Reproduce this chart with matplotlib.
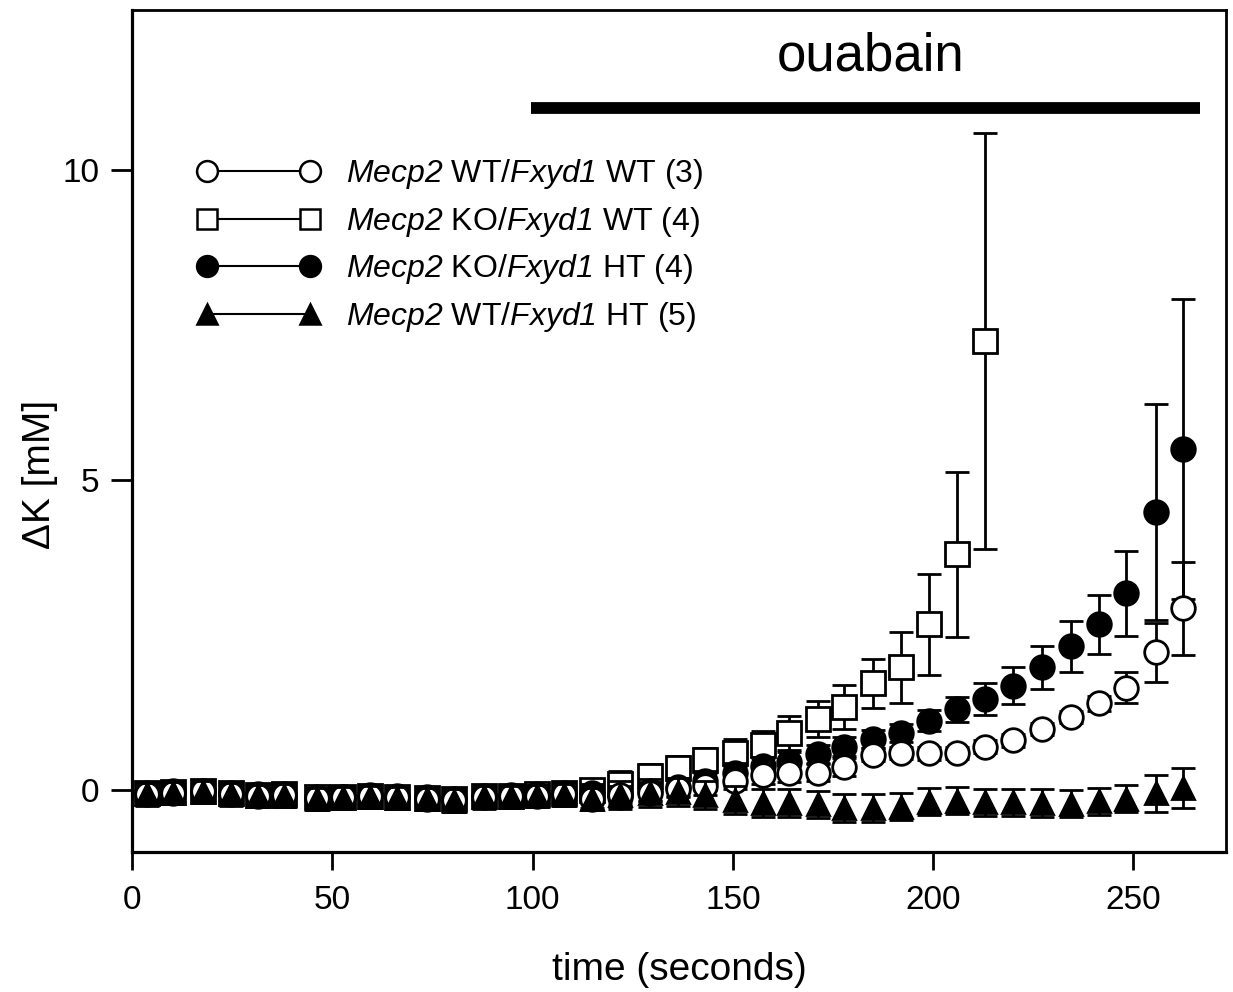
import matplotlib
matplotlib.use("Agg")
import matplotlib.pyplot as plt
from matplotlib.lines import Line2D

plt.rcParams['font.family'] = ['Liberation Sans', 'DejaVu Sans']
plt.rcParams['mathtext.fontset'] = 'custom'
plt.rcParams['mathtext.rm'] = 'Liberation Sans'
plt.rcParams['mathtext.sf'] = 'Liberation Sans:italic'

# time points (s)
times = [3.7, 10.2, 17.7, 24.7, 31.4, 37.9, 46.1, 52.6, 59.3, 66.1, 73.5, 80.3,
         87.8, 94.5, 101.0, 107.7, 114.7, 121.9, 129.4, 136.4, 143.1, 150.4,
         157.4, 164.1, 171.3, 177.8, 185.0, 192.0, 199.0, 206.0, 213.0, 219.8,
         227.2, 234.5, 241.5, 248.2, 255.5, 262.4]

# Mecp2 WT / Fxyd1 WT (open circles)
wt_wt = [-0.06, -0.04, -0.02, -0.06, -0.09, -0.08, -0.13, -0.12, -0.10, -0.12,
         -0.14, -0.16, -0.11, -0.10, -0.09, -0.07, -0.14, -0.08, -0.04, 0.02,
         0.06, 0.15, 0.24, 0.27, 0.28, 0.37, 0.57, 0.60, 0.59, 0.60, 0.70, 0.80,
         0.98, 1.18, 1.40, 1.65, 2.22, 2.93]
wt_wt_err = [0.15] * 17 + [0.14] * 9 + [0.10] * 6 + [0.10, 0.10, 0.12, 0.25, 0.47, 0.75]

# Mecp2 KO / Fxyd1 WT (open squares), recorded up to 213 s
ko_wt = [-0.05, -0.03, -0.02, -0.05, -0.08, -0.07, -0.12, -0.12, -0.09, -0.11,
         -0.13, -0.15, -0.10, -0.09, -0.07, -0.05, 0.00, 0.10, 0.22, 0.35, 0.48,
         0.60, 0.73, 0.92, 1.14, 1.34, 1.72, 1.98, 2.67, 3.80, 7.24]
ko_wt_err = [0.17] * 17 + [0.20, 0.20, 0.20, 0.20, 0.22, 0.22, 0.27, 0.29, 0.35,
                           0.40, 0.57, 0.82, 1.33, 3.36]

# Mecp2 KO / Fxyd1 HT (filled circles)
ko_ht = [-0.04, -0.02, -0.01, -0.05, -0.07, -0.07, -0.11, -0.11, -0.08, -0.10,
         -0.12, -0.14, -0.09, -0.08, -0.07, -0.04, -0.05, -0.12, -0.02, 0.05,
         0.15, 0.28, 0.38, 0.46, 0.58, 0.70, 0.82, 0.92, 1.12, 1.30, 1.47, 1.68,
         1.98, 2.32, 2.67, 3.17, 4.48, 5.50]
ko_ht_err = [0.15] * 28 + [0.17, 0.20, 0.26, 0.30, 0.35, 0.41, 0.48, 0.68, 1.74, 2.42]

# Mecp2 WT / Fxyd1 HT (filled triangles)
wt_ht = [-0.07, -0.05, -0.03, -0.07, -0.10, -0.09, -0.14, -0.13, -0.11, -0.13,
         -0.15, -0.17, -0.12, -0.11, -0.10, -0.08, -0.15, -0.08, -0.05, -0.03,
         -0.08, -0.16, -0.21, -0.21, -0.23, -0.29, -0.29, -0.27, -0.19, -0.17,
         -0.20, -0.20, -0.21, -0.22, -0.18, -0.14, -0.05, 0.03]
wt_ht_err = [0.18] * 17 + [0.22] * 19 + [0.30, 0.32]

labels = [r'$\mathsf{Mecp2}$ WT/$\mathsf{Fxyd1}$ WT (3)',
          r'$\mathsf{Mecp2}$ KO/$\mathsf{Fxyd1}$ WT (4)',
          r'$\mathsf{Mecp2}$ KO/$\mathsf{Fxyd1}$ HT (4)',
          r'$\mathsf{Mecp2}$ WT/$\mathsf{Fxyd1}$ HT (5)']

ouabain_start, ouabain_end = 99.5, 266.5

fig = plt.figure(figsize=(12.33, 9.92), dpi=100)
ax = fig.add_axes([0.1072, 0.1411, 0.8868, 0.8488])

eb = dict(linestyle='none', ecolor='black', elinewidth=2, capsize=8.5,
          capthick=2, mec='black', mew=2)

ax.errorbar(times[:len(ko_wt)], ko_wt, yerr=ko_wt_err, marker='s', ms=17,
            mfc='white', zorder=2, **eb)
ax.errorbar(times, ko_ht, yerr=ko_ht_err, marker='o', ms=17,
            mfc='black', zorder=3, **eb)
ax.errorbar(times, wt_wt, yerr=wt_wt_err, marker='o', ms=17,
            mfc='white', zorder=4, **eb)
ax.errorbar(times, wt_ht, yerr=wt_ht_err, marker='^', ms=16,
            mfc='black', zorder=5, **eb)

# ouabain application bar
ax.plot([ouabain_start, ouabain_end], [11.0, 11.0], color='black', lw=8.5,
        solid_capstyle='butt')
ax.text(184.3, 11.6, 'ouabain', fontsize=38, ha='center', va='baseline')

ax.set_xlim(0, 273)
ax.set_ylim(-1.0, 12.58)
ax.set_xticks([0, 50, 100, 150, 200, 250])
ax.set_yticks([0, 5, 10])
ax.tick_params(axis='x', direction='out', length=13, width=2, pad=11, labelsize=24)
ax.tick_params(axis='y', direction='out', length=15, width=2, pad=8.5, labelsize=24)
for s in ax.spines.values():
    s.set_linewidth(2)
ax.spines['left'].set_linewidth(2.3)
ax.spines['bottom'].set_linewidth(2.3)

ax.set_xlabel('time (seconds)', fontsize=28, labelpad=26)
ax.set_ylabel('ΔK [mM]', fontsize=28)
ax.yaxis.set_label_coords(-0.0675, 0.448)

handles = [
    Line2D([0], [0], color='black', lw=1.5, marker='o', ms=15, mfc='white', mec='black', mew=1.8),
    Line2D([0], [0], color='black', lw=1.5, marker='s', ms=14, mfc='white', mec='black', mew=1.8),
    Line2D([0], [0], color='black', lw=1.5, marker='o', ms=15, mfc='black', mec='black', mew=1.8),
    Line2D([0], [0], color='black', lw=1.5, marker='^', ms=15, mfc='black', mec='black', mew=1.8),
]
ax.legend(handles, labels, loc='upper left', bbox_to_anchor=(0.0593, 0.8255),
          frameon=False, numpoints=2, handlelength=3.85, handletextpad=0.8,
          labelspacing=0.43, borderpad=0, borderaxespad=0, fontsize=23)

fig.savefig('out.png', dpi=100)
